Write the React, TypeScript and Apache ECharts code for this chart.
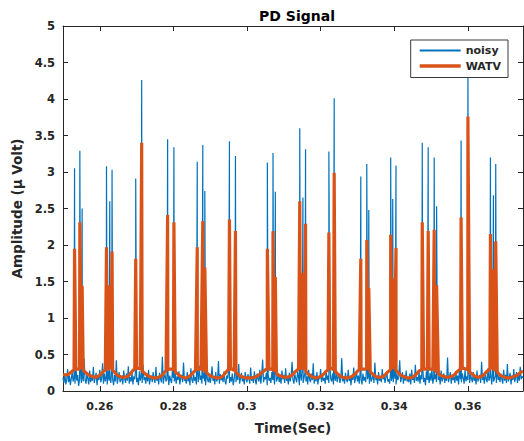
import React, { useEffect, useRef } from "react";
import * as echarts from "echarts";

// ---- axis ranges & ticks ----
const X_MIN = 0.25;
const X_MAX = 0.375;
const xTickValues = [0.26, 0.28, 0.3, 0.32, 0.34, 0.36];
const Y_MIN = 0;
const Y_MAX = 5;
const Y_STEP = 0.5;

// ---- PD pulse events (time in s, amplitude in µV) ----
const spikeTimes = [
  0.25314, 0.25458, 0.2552, 0.26182, 0.26271, 0.26333, 0.26976, 0.27138, 0.27843, 0.28014,
  0.28648, 0.28799, 0.28854, 0.29523, 0.29686, 0.30553, 0.30707, 0.3077, 0.31434, 0.3152,
  0.31591, 0.32225, 0.32369, 0.33092, 0.33255, 0.33309, 0.33905, 0.3396, 0.34049, 0.34762,
  0.34924, 0.35087, 0.35152, 0.35818, 0.36003, 0.36615, 0.36696, 0.36759,
];
const noisyPeaks = [
  3.05, 3.29, 2.5, 3.08, 2.6, 3.03, 2.91, 4.26, 3.45, 3.34,
  3.14, 3.37, 2.74, 3.42, 3.22, 3.13, 3.26, 2.73, 3.6, 2.65,
  3.31, 3.28, 4.01, 2.94, 3.11, 2.48, 3.2, 2.63, 3.09, 3.4,
  3.34, 3.2, 2.53, 3.43, 4.45, 3.2, 2.68, 3.11,
];
const watvPeaks = [
  1.95, 2.31, 1.44, 1.97, 1.45, 1.91, 1.81, 3.4, 2.41, 2.31,
  1.97, 2.33, 1.69, 2.35, 2.19, 1.95, 2.19, 1.56, 2.6, 1.62,
  2.29, 2.17, 2.99, 1.81, 2.07, 1.41, 2.14, 1.54, 1.96, 2.31,
  2.19, 2.21, 1.45, 2.38, 3.76, 2.15, 1.67, 2.05,
];

// ---- background samples starting at 0.25 s (values in 0.01 µV) ----
const SAMPLE_START = 0.25;
const NOISY_STEP = 0.00025;
const WATV_STEP = 0.0005;
const noisyFloor = [
  18, 11, 24, 9, 15, 30, 12, 21, 8, 17, 26, 13, 19, 10, 35, 14, 22, 7, 16, 27, 11, 20, 13, 44, 15,
  10, 23, 17, 9, 28, 12, 19, 14, 33, 11, 18, 25, 8, 21, 15, 29, 12, 17, 38, 10, 24, 13, 20, 9, 27,
  14, 19, 11, 30, 16, 8, 22, 13, 42, 10, 18, 26, 12, 15, 21, 9, 28, 17, 11, 24, 14, 34, 10, 19, 13,
  25, 9, 20, 16, 31, 12, 18, 8, 27, 14, 22, 11, 36, 15, 19, 10, 24, 13, 29, 9, 17, 21, 12, 26, 16,
  11, 33, 14, 20, 9, 25, 17, 12, 47, 10, 19, 23, 13, 16, 28, 8, 21, 15, 11, 30, 18, 13, 24, 10, 20,
  15, 27, 9, 18, 22, 12, 39, 14, 17, 10, 26, 13, 20, 8, 31, 16, 11, 23, 14, 19, 9, 28, 12, 35, 15,
  21, 10, 17, 25, 13, 8, 29, 16, 12, 22, 11, 18, 34, 14, 20, 9, 26, 13, 16, 41, 10, 23, 15, 19, 12,
  27, 14, 9, 21, 17, 30, 11, 19, 13, 24, 8, 16, 28, 12, 22, 15, 37, 10, 18, 25, 13, 20, 9, 26, 16,
  12, 23, 18, 10, 32, 14, 20, 11, 27, 15, 9, 24, 17, 13, 29, 10, 21, 43, 12, 19, 16, 25, 8, 22, 14,
  18, 11, 26, 15, 20, 9, 35, 13, 17, 24, 12, 19, 10, 28, 16, 22, 11, 31, 14, 18, 9, 25, 13, 21, 40,
  15, 10, 23, 17, 12, 27, 19, 8, 22, 14, 33, 11, 18, 25, 13, 20, 9, 29, 16, 12, 24, 15, 38, 10, 21,
  13, 26, 9, 19, 16, 30, 12, 22, 14, 18, 10, 27, 15, 21, 11, 36, 17, 13, 24, 9, 20, 14, 28, 12, 19,
  23, 11, 17, 45, 13, 20, 10, 25, 16, 12, 29, 14, 19, 8, 22, 15, 32, 11, 18, 26, 13, 21, 10, 27, 16,
  9, 24, 14, 19, 12, 34, 16, 21, 10, 28, 13, 17, 23, 11, 39, 15, 20, 9, 26, 14, 18, 12, 30, 16, 22,
  11, 19, 27, 13, 16, 10, 25, 14, 21, 12, 31, 17, 9, 23, 15, 20, 42, 12, 18, 26, 10, 22, 14, 28, 13,
  17, 12, 24, 9, 29, 15, 20, 11, 36, 14, 19, 13, 26, 10, 22, 16, 33, 12, 18, 8, 27, 15, 21, 11, 25,
  14, 30, 10, 19, 16, 23, 12, 37, 15, 20, 9, 28, 13, 17, 24, 11, 21, 14, 46, 12, 18, 26, 10, 22, 15,
  19, 11, 27, 14, 21, 9, 32, 16, 12, 24, 18, 10, 29, 13, 20, 15, 35, 11, 23, 17, 12, 26, 14, 19, 9,
  28, 13, 18, 22, 11, 40, 15, 20, 10, 25, 16, 12, 31, 14, 19, 23, 9, 27, 13, 17, 21, 11, 34, 15, 20,
  12, 24, 16, 10, 29, 14, 22, 11, 37, 13, 18, 25, 9, 21, 15, 30, 12, 19, 26, 11, 23, 14, 33, 16, 20,
  18,
];
const watvFloor = [
  22, 22, 22, 23, 25, 27, 29, 30, 30, 30, 30, 28, 26, 24, 22, 21, 20, 19, 19, 20, 22, 24, 27, 29, 30,
  30, 30, 28, 26, 23, 21, 20, 19, 19, 19, 20, 22, 25, 28, 30, 31, 31, 30, 27, 25, 23, 21, 20, 19, 18,
  18, 18, 19, 20, 22, 25, 28, 29, 30, 30, 29, 26, 24, 22, 20, 19, 18, 18, 19, 21, 23, 26, 28, 29, 30,
  30, 30, 27, 25, 23, 21, 20, 19, 18, 18, 18, 19, 21, 24, 27, 29, 30, 30, 28, 26, 23, 21, 20, 19, 18,
  18, 18, 18, 18, 19, 20, 21, 23, 25, 27, 29, 30, 30, 30, 29, 26, 24, 22, 21, 20, 19, 19, 19, 20, 21,
  23, 26, 28, 30, 31, 31, 29, 27, 24, 22, 20, 19, 18, 18, 19, 20, 22, 24, 27, 29, 30, 31, 29, 27, 24,
  22, 20, 19, 18, 18, 18, 19, 20, 22, 24, 27, 29, 30, 30, 30, 30, 29, 26, 24, 22, 20, 19, 19, 19, 20,
  22, 25, 27, 29, 30, 30, 28, 26, 23, 21, 20, 19, 18, 18, 18, 19, 21, 23, 26, 28, 29, 30, 30, 30, 30,
  30, 30, 29, 26, 24, 22, 21, 20, 19, 19, 19, 20, 21, 23, 26, 28, 30, 31, 31, 30, 29, 26, 24, 22, 20,
  19, 19, 20, 21, 23, 26, 28, 30, 30, 30, 28, 26, 23, 21, 20, 19, 18, 18, 18, 19, 20, 21, 22, 24, 26,
  27,
];

const seriesNames = ["noisy", "WATV"];
const seriesColors = ["#0072BD", "#D95319"];

function buildSeries(floor: number[], step: number, peaks: number[]): number[][] {
  const pts: number[][] = floor.map((v, i) => [
    Number((SAMPLE_START + i * step).toFixed(6)),
    v / 100,
  ]);
  spikeTimes.forEach((t, i) => pts.push([t, peaks[i]]));
  pts.sort((a, b) => a[0] - b[0]);
  return pts;
}

const TEXT = "#262626";
const FONT = "DejaVu Sans";

export default function App() {
  const ref = useRef<HTMLDivElement>(null);
  useEffect(() => {
    if (!ref.current) return;
    const chart = echarts.init(ref.current, undefined, { renderer: "svg" });
    const axisCommon = {
      axisLine: { show: true, onZero: false, lineStyle: { color: TEXT, width: 1 } },
      splitLine: { show: false },
    };
    chart.setOption({
      animation: false,
      backgroundColor: "#ffffff",
      title: {
        text: "PD Signal",
        left: 292,
        textAlign: "center",
        top: 4,
        textStyle: { fontFamily: FONT, fontWeight: "bold", fontSize: 14, color: "#000" },
      },
      legend: {
        data: [
          { name: seriesNames[0], icon: "path://M0,0H41V2H0Z" },
          { name: seriesNames[1], icon: "path://M0,0H41V3.6H0Z" },
        ],
        orient: "vertical",
        right: 16,
        top: 40,
        itemWidth: 41,
        itemHeight: 12,
        itemGap: 4.5,
        symbolKeepAspect: true,
        padding: [5, 7, 6, 9],
        backgroundColor: "#ffffff",
        borderColor: "#3a3a3a",
        borderWidth: 1,
        borderRadius: 0,
        textStyle: { fontFamily: FONT, fontWeight: "bold", fontSize: 11, color: TEXT },
      },
      grid: { left: 63, right: 1, top: 26, bottom: 50, containLabel: false },
      xAxis: [
        {
          type: "value",
          min: X_MIN,
          max: X_MAX,
          position: "bottom",
          ...axisCommon,
          axisTick: { show: true, inside: true, length: 5, customValues: xTickValues, lineStyle: { color: TEXT } },
          axisLabel: {
            show: true,
            customValues: xTickValues,
            margin: 10,
            formatter: (v: number) => (Math.round(v * 100) / 100).toString(),
            fontFamily: FONT,
            fontWeight: "bold",
            fontSize: 11,
            color: TEXT,
          },
          name: "Time(Sec)",
          nameLocation: "middle",
          nameGap: 30,
          nameTextStyle: { fontFamily: FONT, fontWeight: "bold", fontSize: 13.5, color: TEXT },
        },
        {
          type: "value",
          min: X_MIN,
          max: X_MAX,
          position: "top",
          ...axisCommon,
          axisTick: { show: true, inside: true, length: 5, customValues: xTickValues, lineStyle: { color: TEXT } },
          axisLabel: { show: false },
        },
      ],
      yAxis: [
        {
          type: "value",
          min: Y_MIN,
          max: Y_MAX,
          interval: Y_STEP,
          position: "left",
          ...axisCommon,
          axisTick: { show: true, inside: true, length: 5, lineStyle: { color: TEXT } },
          axisLabel: {
            margin: 8,
            fontFamily: FONT,
            fontWeight: "bold",
            fontSize: 11.5,
            color: TEXT,
          },
          name: "Amplitude (μ Volt)",
          nameLocation: "middle",
          nameGap: 27,
          nameTextStyle: { fontFamily: FONT, fontWeight: "bold", fontSize: 13.5, color: TEXT },
        },
        {
          type: "value",
          min: Y_MIN,
          max: Y_MAX,
          interval: Y_STEP,
          position: "right",
          ...axisCommon,
          axisTick: { show: true, inside: true, length: 5, lineStyle: { color: TEXT } },
          axisLabel: { show: false },
        },
      ],
      series: [
        {
          name: seriesNames[0],
          type: "line",
          xAxisIndex: 0,
          yAxisIndex: 0,
          data: buildSeries(noisyFloor, NOISY_STEP, noisyPeaks),
          symbol: "none",
          showSymbol: false,
          lineStyle: { color: seriesColors[0], width: 1.2 },
          itemStyle: { color: seriesColors[0] },
        },
        {
          name: seriesNames[1],
          type: "line",
          xAxisIndex: 0,
          yAxisIndex: 0,
          data: buildSeries(watvFloor, WATV_STEP, watvPeaks),
          symbol: "none",
          showSymbol: false,
          lineStyle: { color: seriesColors[1], width: 3.2 },
          itemStyle: { color: seriesColors[1] },
        },
      ],
    });
    return () => chart.dispose();
  }, []);
  return (
    <div
      ref={ref}
      style={{ position: "fixed", left: 0, top: 0, width: 524, height: 441, background: "#fff" }}
    />
  );
}
